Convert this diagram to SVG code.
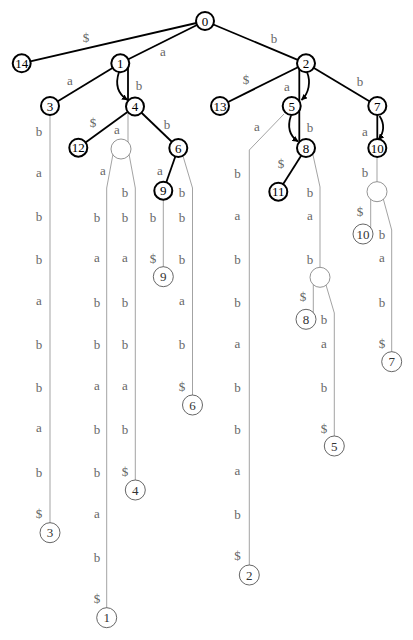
<svg xmlns="http://www.w3.org/2000/svg" width="413" height="640" viewBox="0 0 413 640" font-family="'Liberation Serif', 'Times New Roman', serif">
<style>
.e{stroke:#000;stroke-width:1.8;fill:none}
.g{stroke:#999;stroke-width:0.9;fill:none}
.n{fill:#fff;stroke:#000;stroke-width:2}
.h{fill:#fff;stroke:#888;stroke-width:0.9}
.l{fill:#fff;stroke:#555;stroke-width:0.9}
text{font-family:"Liberation Serif","Times New Roman",serif;font-size:13px;text-anchor:middle;font-weight:normal}
.nt{fill:#000}
.lt{fill:#333}
.lb{fill:#666}
</style>
<defs>
<marker id="ar" viewBox="0 0 6 6" refX="5.5" refY="3" markerWidth="6" markerHeight="6" markerUnits="userSpaceOnUse" orient="auto">
<path d="M0,0 L6,3 L0,6 Z" fill="#000"/>
</marker>
</defs>
<rect width="413" height="640" fill="#fff"/>
<g id="connectors">
<line class="e" x1="205" y1="21" x2="21.7" y2="63.3"/>
<line class="e" x1="205" y1="21" x2="120.3" y2="63.3"/>
<line class="e" x1="205" y1="21" x2="306" y2="63.3"/>
<line class="e" x1="120.3" y1="63.3" x2="50" y2="106"/>
<line class="e" x1="128" y1="63" x2="128" y2="106"/>
<line class="e" x1="135" y1="106.5" x2="78.3" y2="147.7"/>
<line class="e" x1="135" y1="106.5" x2="178.3" y2="148"/>
<line class="e" x1="178.3" y1="148" x2="163.3" y2="190.7"/>
<line class="e" x1="306" y1="63.3" x2="220" y2="106"/>
<line class="e" x1="299.3" y1="63" x2="299.3" y2="148"/>
<line class="e" x1="306" y1="63.3" x2="377.3" y2="106"/>
<line class="e" x1="377.3" y1="106" x2="377.3" y2="148"/>
<line class="e" x1="306" y1="148" x2="278.3" y2="191.7"/>
<path class="e" d="M119,72 C115,84 118,94 127.5,100" marker-end="url(#ar)"/>
<path class="e" d="M307,72 C311,82 309,93 301.5,100" marker-end="url(#ar)"/>
<path class="e" d="M291,115.5 C287,127 290,136 298,141.5" marker-end="url(#ar)"/>
<path class="e" d="M379.5,116 C385,124 384,133 378.5,139.5" marker-end="url(#ar)"/>
<path class="g" d="M50,106 V532.7"/>
<path class="g" d="M128,106 V148"/>
<path class="g" d="M113,154 L106.7,188 V617.7"/>
<path class="g" d="M129,154 L135.3,188 V490"/>
<path class="g" d="M183,156 L192.5,188 V405"/>
<path class="g" d="M163.3,190.7 V276.7"/>
<path class="g" d="M284,114 L249.3,150 V575"/>
<path class="g" d="M313,155 L320,187 V277.3"/>
<path class="g" d="M313.3,284 V316"/>
<path class="g" d="M326,285 L334.3,313 V446"/>
<path class="g" d="M377,148 V191.7"/>
<path class="g" d="M370.7,199 V234"/>
<path class="g" d="M383.3,199 L391.7,230 V361.7"/>
</g>
<g id="edge-labels">
<text class="lb" x="86" y="42.3">$</text>
<text class="lb" x="163" y="56">a</text>
<text class="lb" x="274" y="42.5">b</text>
<text class="lb" x="70" y="85">a</text>
<text class="lb" x="139" y="89.5">b</text>
<text class="lb" x="93" y="127.3">$</text>
<text class="lb" x="167" y="128.5">b</text>
<text class="lb" x="246" y="84.3">$</text>
<text class="lb" x="287" y="91">a</text>
<text class="lb" x="360" y="85.5">b</text>
<text class="lb" x="310" y="131.5">b</text>
<text class="lb" x="365" y="136">a</text>
<text class="lb" x="160" y="175">a</text>
<text class="lb" x="281" y="168.3">$</text>
<text class="lb" x="117" y="134">a</text>
<text class="lb" x="39" y="135.5">b</text>
<text class="lb" x="39" y="177">a</text>
<text class="lb" x="39" y="220.5">b</text>
<text class="lb" x="39" y="263.5">b</text>
<text class="lb" x="39" y="305">a</text>
<text class="lb" x="39" y="348.5">b</text>
<text class="lb" x="39" y="391.5">b</text>
<text class="lb" x="39" y="432">a</text>
<text class="lb" x="39" y="476.5">b</text>
<text class="lb" x="39" y="518.3">$</text>
<text class="lb" x="103" y="175">a</text>
<text class="lb" x="97" y="221.5">b</text>
<text class="lb" x="97" y="262">a</text>
<text class="lb" x="97" y="306.5">b</text>
<text class="lb" x="97" y="348.5">b</text>
<text class="lb" x="97" y="390">a</text>
<text class="lb" x="97" y="433.5">b</text>
<text class="lb" x="97" y="476.5">b</text>
<text class="lb" x="97" y="518">a</text>
<text class="lb" x="97" y="561.5">b</text>
<text class="lb" x="97" y="603.3">$</text>
<text class="lb" x="125" y="196.5">b</text>
<text class="lb" x="125" y="221.5">b</text>
<text class="lb" x="125" y="262">a</text>
<text class="lb" x="125" y="306.5">b</text>
<text class="lb" x="125" y="348.5">b</text>
<text class="lb" x="125" y="390">a</text>
<text class="lb" x="125" y="433.5">b</text>
<text class="lb" x="125" y="476.3">$</text>
<text class="lb" x="153" y="221.5">b</text>
<text class="lb" x="153" y="263.3">$</text>
<text class="lb" x="182" y="196.5">b</text>
<text class="lb" x="182" y="221.5">b</text>
<text class="lb" x="182" y="263.5">b</text>
<text class="lb" x="182" y="305">a</text>
<text class="lb" x="182" y="348.5">b</text>
<text class="lb" x="182" y="391.3">$</text>
<text class="lb" x="257" y="131">a</text>
<text class="lb" x="237.5" y="177.5">b</text>
<text class="lb" x="237.5" y="220">a</text>
<text class="lb" x="237.5" y="263.5">b</text>
<text class="lb" x="237.5" y="306.5">b</text>
<text class="lb" x="237.5" y="348">a</text>
<text class="lb" x="237.5" y="391.5">b</text>
<text class="lb" x="237.5" y="433.5">b</text>
<text class="lb" x="237.5" y="475">a</text>
<text class="lb" x="237.5" y="518.5">b</text>
<text class="lb" x="237.5" y="560.3">$</text>
<text class="lb" x="310" y="196.5">b</text>
<text class="lb" x="310" y="220">a</text>
<text class="lb" x="310" y="263.5">b</text>
<text class="lb" x="303" y="301.3">$</text>
<text class="lb" x="324" y="323.5">b</text>
<text class="lb" x="324" y="348">a</text>
<text class="lb" x="324" y="391.5">b</text>
<text class="lb" x="324" y="433.3">$</text>
<text class="lb" x="365" y="176.5">b</text>
<text class="lb" x="360" y="216.3">$</text>
<text class="lb" x="382" y="238.5">b</text>
<text class="lb" x="382" y="262">a</text>
<text class="lb" x="382" y="306.5">b</text>
<text class="lb" x="382" y="348.3">$</text>
</g>
<g id="node-0"><circle class="n" cx="205" cy="21" r="9"/><text class="nt" x="205" y="25.5">0</text></g>
<g id="node-14"><circle class="n" cx="21.7" cy="63.3" r="9"/><text class="nt" x="21.7" y="67.8">14</text></g>
<g id="node-1"><circle class="n" cx="120.3" cy="63.3" r="9"/><text class="nt" x="120.3" y="67.8">1</text></g>
<g id="node-2"><circle class="n" cx="306" cy="63.3" r="9"/><text class="nt" x="306" y="67.8">2</text></g>
<g id="node-3"><circle class="n" cx="50" cy="106" r="9"/><text class="nt" x="50" y="110.5">3</text></g>
<g id="node-4"><circle class="n" cx="135" cy="106.5" r="9"/><text class="nt" x="135" y="111">4</text></g>
<g id="node-13"><circle class="n" cx="220" cy="106" r="9"/><text class="nt" x="220" y="110.5">13</text></g>
<g id="node-5"><circle class="n" cx="291.7" cy="106" r="9"/><text class="nt" x="291.7" y="110.5">5</text></g>
<g id="node-7"><circle class="n" cx="377.3" cy="106" r="9"/><text class="nt" x="377.3" y="110.5">7</text></g>
<g id="node-12"><circle class="n" cx="78.3" cy="147.7" r="9"/><text class="nt" x="78.3" y="152.2">12</text></g>
<g id="node-h1"><circle class="h" cx="121" cy="149" r="10"/></g>
<g id="node-6"><circle class="n" cx="178.3" cy="148" r="9"/><text class="nt" x="178.3" y="152.5">6</text></g>
<g id="node-8"><circle class="n" cx="306" cy="148" r="9"/><text class="nt" x="306" y="152.5">8</text></g>
<g id="node-10"><circle class="n" cx="377.3" cy="148" r="9"/><text class="nt" x="377.3" y="152.5">10</text></g>
<g id="node-9"><circle class="n" cx="163.3" cy="190.7" r="9"/><text class="nt" x="163.3" y="195.2">9</text></g>
<g id="node-11"><circle class="n" cx="278.3" cy="191.7" r="9"/><text class="nt" x="278.3" y="196.2">11</text></g>
<g id="node-h3"><circle class="h" cx="377" cy="191.7" r="10"/></g>
<g id="leaf-10"><circle class="l" cx="363" cy="234" r="10"/><text class="lt" x="363" y="238.5">10</text></g>
<g id="leaf-9"><circle class="l" cx="163.3" cy="276.7" r="10"/><text class="lt" x="163.3" y="281.2">9</text></g>
<g id="node-h2"><circle class="h" cx="320" cy="277.3" r="10"/></g>
<g id="leaf-8"><circle class="l" cx="306" cy="319.3" r="10"/><text class="lt" x="306" y="323.8">8</text></g>
<g id="leaf-7"><circle class="l" cx="391.7" cy="361.7" r="10"/><text class="lt" x="391.7" y="366.2">7</text></g>
<g id="leaf-6"><circle class="l" cx="192.5" cy="405" r="10"/><text class="lt" x="192.5" y="409.5">6</text></g>
<g id="leaf-5"><circle class="l" cx="334.3" cy="446" r="10"/><text class="lt" x="334.3" y="450.5">5</text></g>
<g id="leaf-4"><circle class="l" cx="135.3" cy="490" r="10"/><text class="lt" x="135.3" y="494.5">4</text></g>
<g id="leaf-3"><circle class="l" cx="50" cy="532.7" r="10"/><text class="lt" x="50" y="537.2">3</text></g>
<g id="leaf-2"><circle class="l" cx="249.3" cy="575" r="10"/><text class="lt" x="249.3" y="579.5">2</text></g>
<g id="leaf-1"><circle class="l" cx="106.7" cy="617.7" r="10"/><text class="lt" x="106.7" y="622.2">1</text></g>
</svg>
